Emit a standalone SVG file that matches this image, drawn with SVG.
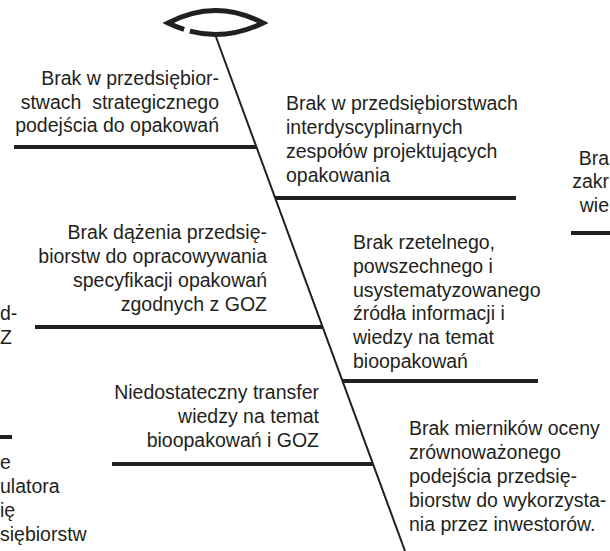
<svg xmlns="http://www.w3.org/2000/svg" width="610" height="551" viewBox="0 0 610 551">
<style>
text{font-family:"Liberation Sans",Arial,sans-serif;font-size:19.5px;fill:#231f20}
.e{text-anchor:end}
.bone{stroke:#231f20;stroke-width:4;fill:none}
.spine{stroke:#231f20;stroke-width:2;fill:none}
</style>
<rect width="610" height="551" fill="#fff"/>
<g id="head">
<path d="M189.85,31.15 Q226.43,40.71 263,23 Q215.5,-2 168,23 Q176.08,26.91 184.15,29.49" fill="none" stroke="#231f20" stroke-width="5" stroke-linejoin="miter" stroke-miterlimit="10"/>
</g>
<g id="connectors">
<line class="spine" x1="216" y1="37" x2="405" y2="551"/>
<line class="bone" x1="14" y1="147" x2="256" y2="147"/>
<line class="bone" x1="275" y1="198" x2="516" y2="198"/>
<line class="bone" x1="571" y1="233" x2="610" y2="233"/>
<line class="bone" x1="35" y1="327" x2="322" y2="327"/>
<line class="bone" x1="342" y1="381" x2="538" y2="381"/>
<line class="bone" x1="0" y1="437" x2="12" y2="437"/>
<line class="bone" x1="112" y1="464" x2="373" y2="464"/>
</g>
<g id="cause-l1">
<text class="e" x="219" y="85">Brak w przedsiębior-</text>
<text class="e" x="219" y="109" xml:space="preserve">stwach  strategicznego</text>
<text class="e" x="219" y="132">podejścia do opakowań</text>
</g>
<g id="cause-r1">
<text x="286" y="110">Brak w przedsiębiorstwach</text>
<text x="286" y="134">interdyscyplinarnych</text>
<text x="286" y="158">zespołów projektujących</text>
<text x="286" y="182">opakowania</text>
</g>
<g id="cause-far-right">
<text class="e" x="609" y="165">Bra</text>
<text class="e" x="609" y="188">zakr</text>
<text class="e" x="609" y="212">wie</text>
</g>
<g id="cause-l2">
<text class="e" x="267" y="239">Brak dążenia przedsię-</text>
<text class="e" x="267" y="263">biorstw do opracowywania</text>
<text class="e" x="267" y="287">specyfikacji opakowań</text>
<text class="e" x="267" y="311">zgodnych z GOZ</text>
</g>
<g id="cause-far-left-1">
<text x="0" y="320">d-</text>
<text x="0" y="344">Z</text>
</g>
<g id="cause-r2">
<text x="353" y="249">Brak rzetelnego,</text>
<text x="353" y="273">powszechnego i</text>
<text x="353" y="297">usystematyzowanego</text>
<text x="353" y="320">źródła informacji i</text>
<text x="353" y="344">wiedzy na temat</text>
<text x="353" y="368">bioopakowań</text>
</g>
<g id="cause-l3">
<text class="e" x="319" y="399">Niedostateczny transfer</text>
<text class="e" x="319" y="423">wiedzy na temat</text>
<text class="e" x="319" y="447">bioopakowań i GOZ</text>
</g>
<g id="cause-far-left-2">
<text x="0" y="469">e</text>
<text x="0" y="493">ulatora</text>
<text x="0" y="517">ię</text>
<text x="0" y="541">siębiorstw</text>
</g>
<g id="cause-r3">
<text x="409" y="435">Brak mierników oceny</text>
<text x="409" y="459">zrównoważonego</text>
<text x="409" y="483">podejścia przedsię-</text>
<text x="409" y="507">biorstw do wykorzysta-</text>
<text x="409" y="531">nia przez inwestorów.</text>
</g>
</svg>
